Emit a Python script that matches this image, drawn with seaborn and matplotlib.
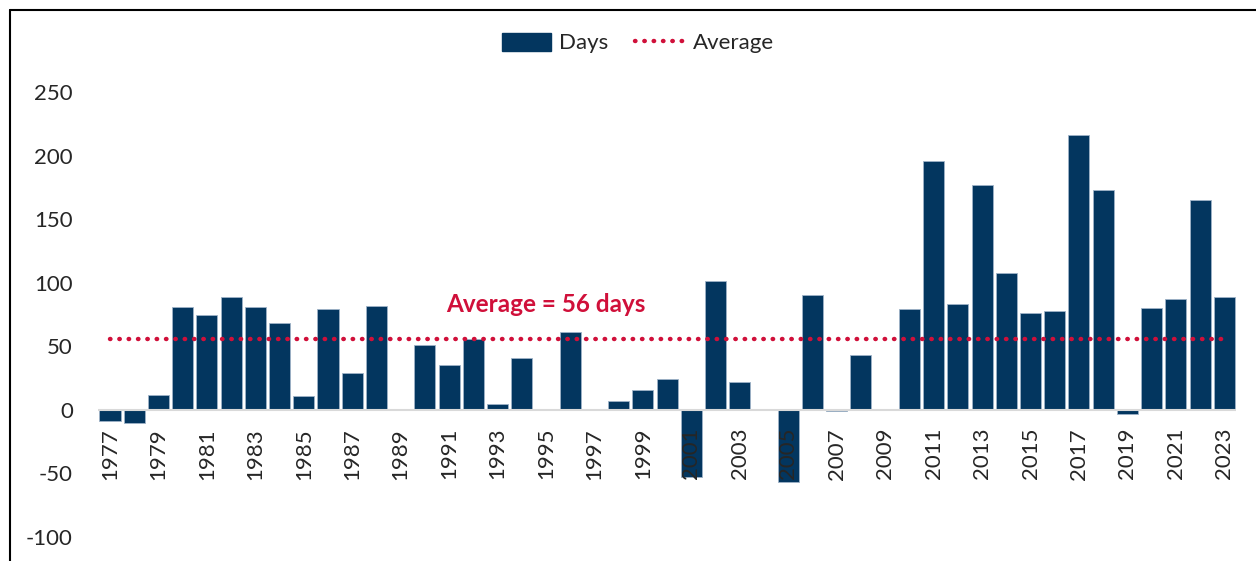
import matplotlib
matplotlib.use("Agg")
import matplotlib.pyplot as plt
import matplotlib.lines as mlines
import matplotlib.patches as mpatches
import seaborn as sns
import pandas as pd

# Data
years = list(range(1977, 2024))
days = [-9, -10, 12, 81, 75, 89, 81, 68, 11, 79, 29, 82, 0,
        51, 35, 56, 5, 41, 0, 61, 0, 7, 16, 24, -53, 101, 22, 0,
        -57, 90, -1, 43, 0, 79, 196, 83, 177, 108, 76, 78, 216, 173,
        -3, 80, 87, 165, 89]
average = 56
y_ticks = [-100, -50, 0, 50, 100, 150, 200, 250]

bar_color = "#03365F"
avg_color = "#D0103A"
text_color = "#262626"

df = pd.DataFrame({"year": [str(y) for y in years], "days": days})

sns.set_style("white")
plt.rcParams["font.family"] = ["Lato", "DejaVu Sans"]

fig = plt.figure(figsize=(12.56, 5.61), dpi=100)
ax = fig.add_axes([97.9 / 1256, 1 - 537 / 561, (1236.4 - 97.9) / 1256, (537 - 92) / 561])

sns.barplot(data=df, x="year", y="days", color=bar_color, width=0.87,
            edgecolor="#9FB3C8", linewidth=0.6, saturation=1, ax=ax, zorder=2)

# average line spanning first to last category
ax.hlines(average, 0, len(years) - 1, colors=avg_color, linewidth=3.2,
          linestyles=(0, (0.1, 2.0)), zorder=3)
for coll in ax.collections:
    coll.set_capstyle("round")

ax.text(18, 83, "Average = 56 days", color=avg_color, fontsize=17.5,
        fontweight="bold", ha="center", va="center")

ax.axhline(0, color="#D9D9D9", linewidth=1.5, zorder=2.2)

# category labels sit just under the zero line (set before tick labels, it resets the axis)
ax.spines["bottom"].set_position(("data", 0))
ax.set_axisbelow(False)

ax.set_ylim(-100, 250)
ax.set_xlim(-0.5, len(years) - 0.5)
ax.set_yticks(y_ticks)
ax.set_yticklabels([str(v) for v in y_ticks], fontsize=16, color=text_color)
ax.set_xticks(range(0, len(years), 2))
ax.set_xticklabels([str(y) for y in years[::2]], rotation=90, fontsize=16,
                   color=text_color)
ax.tick_params(axis="x", length=0, pad=13)
ax.tick_params(axis="y", length=0, pad=18)
ax.set_xlabel("")
ax.set_ylabel("")
for s in ax.spines.values():
    s.set_visible(False)
ax.set_facecolor("none")

# legend
handles = [mpatches.Patch(color=bar_color, label="Days"),
           mlines.Line2D([], [], color=avg_color, linewidth=3.2,
                         linestyle=(0, (0.1, 2.0)), dash_capstyle="round",
                         label="Average")]
fig.legend(handles=handles, loc="center", bbox_to_anchor=(638 / 1256, 1 - 43 / 561),
           ncol=2, frameon=False, fontsize=16, handlelength=2.2, handleheight=0.9,
           columnspacing=1.2, handletextpad=0.4, labelcolor=text_color)

# chart-area border (top and left visible)
fig.add_artist(mlines.Line2D([10 / 1256, 1], [1 - 10 / 561, 1 - 10 / 561],
                             transform=fig.transFigure, color="black", linewidth=1.5))
fig.add_artist(mlines.Line2D([10 / 1256, 10 / 1256], [0, 1 - 10 / 561],
                             transform=fig.transFigure, color="black", linewidth=1.5))

fig.savefig("out.png", dpi=100)
